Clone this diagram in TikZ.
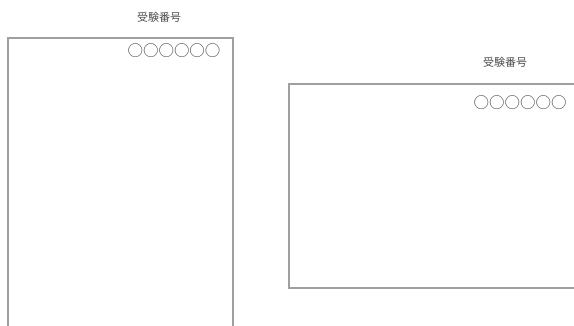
\documentclass[tikz,border=0pt]{standalone}
\usepackage{fontspec}
\newfontfamily\cjk{Noto Sans CJK JP}
\begin{document}
\begin{tikzpicture}[x=1pt,y=-1pt,
  sheet/.style={draw=gray!75,line width=1.3pt},
  label/.style={font=\cjk\fontsize{11}{12}\selectfont,text=gray!60!black,inner sep=0pt},
  marks/.style={font=\cjk\fontsize{15.5}{16}\selectfont,text=gray!60!black,inner sep=0pt}]
\useasboundingbox (0,0) rectangle (574,325);
\begin{scope}
\clip (0,0) rectangle (574,325);
\draw[sheet] (8,38) rectangle (233,340);
\draw[sheet] (289,84) rectangle (590,288);
\end{scope}
\node[label] (t1) at (159,17) {受験番号};
\node[marks] (c1) at (174,51) {○○○○○○};
\node[label] (t2) at (505,62) {受験番号};
\node[marks] (c2) at (520,103) {○○○○○○};
\end{tikzpicture}
\end{document}
